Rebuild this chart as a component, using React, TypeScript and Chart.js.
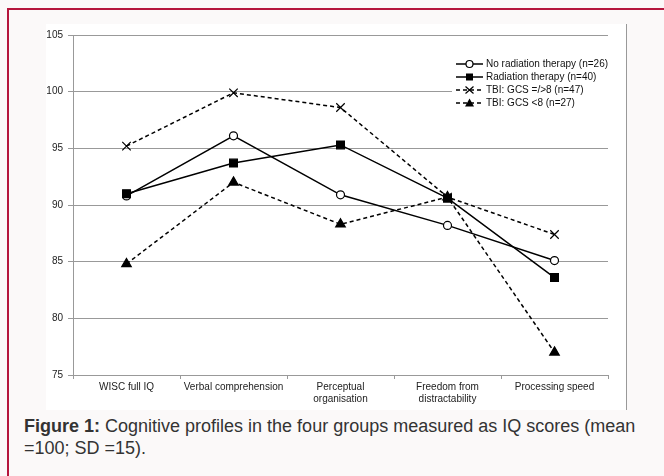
import React, { useEffect, useRef } from "react";
import { Chart, registerables } from "chart.js";

Chart.register(...registerables);

const categories: (string | string[])[] = [
  "WISC full IQ",
  "Verbal comprehension",
  ["Perceptual", "organisation"],
  ["Freedom from", "distractability"],
  "Processing speed",
];
const noRadiation = [90.8, 96.1, 90.9, 88.2, 85.1];
const radiation = [91.0, 93.7, 95.3, 90.6, 83.6];
const tbiHigh = [95.2, 99.9, 98.6, 90.7, 87.4];
const tbiLow = [84.8, 92.0, 88.3, 90.7, 77.0];
const seriesLabels = [
  "No radiation therapy (n=26)",
  "Radiation therapy (n=40)",
  "TBI: GCS =/>8 (n=47)",
  "TBI: GCS <8 (n=27)",
];
const yTicks = { min: 75, max: 105, step: 5 };

const FONT = "'Liberation Sans', Arial, sans-serif";

function drawMarker(ctx: CanvasRenderingContext2D, style: string, x: number, y: number) {
  ctx.save();
  ctx.setLineDash([]);
  ctx.strokeStyle = "#000";
  ctx.fillStyle = "#000";
  ctx.lineWidth = 1.2;
  ctx.beginPath();
  if (style === "circle") {
    ctx.fillStyle = "#fff";
    ctx.arc(x, y, 3.5, 0, Math.PI * 2);
    ctx.fill();
    ctx.stroke();
  } else if (style === "rect") {
    ctx.fillRect(x - 3.5, y - 3.5, 7, 7);
  } else if (style === "crossRot") {
    ctx.moveTo(x - 4, y - 3.5);
    ctx.lineTo(x + 4, y + 3.5);
    ctx.moveTo(x - 4, y + 3.5);
    ctx.lineTo(x + 4, y - 3.5);
    ctx.stroke();
  } else if (style === "triangle") {
    ctx.moveTo(x, y - 4.5);
    ctx.lineTo(x + 4.5, y + 3.5);
    ctx.lineTo(x - 4.5, y + 3.5);
    ctx.closePath();
    ctx.fill();
  }
  ctx.restore();
}

const legendPlugin = {
  id: "customLegend",
  afterDraw(chart: any) {
    const ctx: CanvasRenderingContext2D = chart.ctx;
    const ca = chart.chartArea;
    const boxLeft = ca.right - 156;
    const boxTop = ca.top + 20;
    ctx.save();
    ctx.fillStyle = "#fff";
    ctx.fillRect(boxLeft, boxTop, 175, 60);
    ctx.font = `10px ${FONT}`;
    ctx.textBaseline = "middle";
    chart.data.datasets.forEach((ds: any, i: number) => {
      const y = boxTop + 9 + i * 13;
      const x0 = boxLeft + 4;
      const x1 = x0 + 27;
      ctx.save();
      ctx.strokeStyle = "#000";
      ctx.lineWidth = 1.5;
      ctx.setLineDash(ds.borderDash || []);
      ctx.beginPath();
      ctx.moveTo(x0, y);
      ctx.lineTo(x1, y);
      ctx.stroke();
      ctx.restore();
      drawMarker(ctx, ds.pointStyle, (x0 + x1) / 2, y);
      ctx.fillStyle = "#111";
      ctx.fillText(ds.label, x1 + 3, y);
    });
    ctx.restore();
  },
};

export default function App() {
  const ref = useRef<HTMLCanvasElement | null>(null);
  useEffect(() => {
    if (!ref.current) return;
    const base = {
      borderColor: "#000",
      pointBorderColor: "#000",
      borderWidth: 1.5,
      pointBorderWidth: 1.2,
      tension: 0,
    };
    const chart = new Chart(ref.current, {
      type: "line",
      data: {
        labels: categories,
        datasets: [
          {
            ...base,
            label: seriesLabels[0],
            data: noRadiation,
            pointStyle: "circle",
            pointRadius: 4,
            pointBackgroundColor: "#fff",
            order: 1,
          },
          {
            ...base,
            label: seriesLabels[1],
            data: radiation,
            pointStyle: "rect",
            pointRadius: 5.5,
            pointBackgroundColor: "#000",
            order: 0,
          },
          {
            ...base,
            label: seriesLabels[2],
            data: tbiHigh,
            borderDash: [4, 3],
            pointStyle: "crossRot",
            pointRadius: 6,
            pointBackgroundColor: "#000",
            order: 2,
          },
          {
            ...base,
            label: seriesLabels[3],
            data: tbiLow,
            borderDash: [4, 3],
            pointStyle: "triangle",
            pointRadius: 5.5,
            pointBackgroundColor: "#000",
            order: 3,
          },
        ],
      } as any,
      options: {
        animation: false,
        responsive: false,
        devicePixelRatio: 1,
        layout: { padding: { top: 7, right: 18, left: 0, bottom: 0 } },
        plugins: { legend: { display: false }, tooltip: { enabled: false } },
        scales: {
          x: {
            offset: true,
            grid: {
              offset: true,
              drawOnChartArea: false,
              drawTicks: true,
              tickLength: 4,
              color: "#999",
            },
            border: { color: "#999", width: 1 },
            ticks: {
              color: "#222",
              font: { family: FONT, size: 10 },
              padding: 2,
              maxRotation: 0,
              autoSkip: false,
            },
            afterFit: (s: any) => {
              s.height = 33;
            },
          },
          y: {
            min: yTicks.min,
            max: yTicks.max,
            ticks: {
              stepSize: yTicks.step,
              color: "#222",
              font: { family: FONT, size: 10 },
              padding: 5,
            },
            grid: { color: "#999", tickLength: 5, drawTicks: true },
            border: { color: "#999", width: 1 },
            afterFit: (s: any) => {
              s.width = 27;
            },
          },
        },
      } as any,
      plugins: [legendPlugin],
    });
    return () => chart.destroy();
  }, []);

  return (
    <div
      style={{
        position: "fixed",
        left: 0,
        top: 0,
        width: 664,
        height: 476,
        background: "#fbf9f9",
        overflow: "hidden",
      }}
    >
      <div
        style={{
          position: "absolute",
          left: 7,
          top: 8,
          width: 700,
          height: 500,
          borderTop: "2px solid #b5163d",
          borderLeft: "2px solid #b5163d",
          boxSizing: "border-box",
        }}
      />
      <div
        style={{
          position: "absolute",
          left: 46,
          top: 24,
          width: 580,
          height: 386,
          background: "#fff",
          borderRight: "1px solid #999",
        }}
      >
        <canvas ref={ref} width={580} height={384} style={{ display: "block", width: 580, height: 384 }} />
      </div>
      <div
        style={{
          position: "absolute",
          left: 24,
          top: 415,
          width: 640,
          fontFamily: FONT,
          fontSize: 18,
          lineHeight: "22px",
          color: "#333",
          whiteSpace: "nowrap",
        }}
      >
        <b>Figure 1:</b> Cognitive profiles in the four groups measured as IQ scores (mean
        <br />
        =100; SD =15).
      </div>
    </div>
  );
}
